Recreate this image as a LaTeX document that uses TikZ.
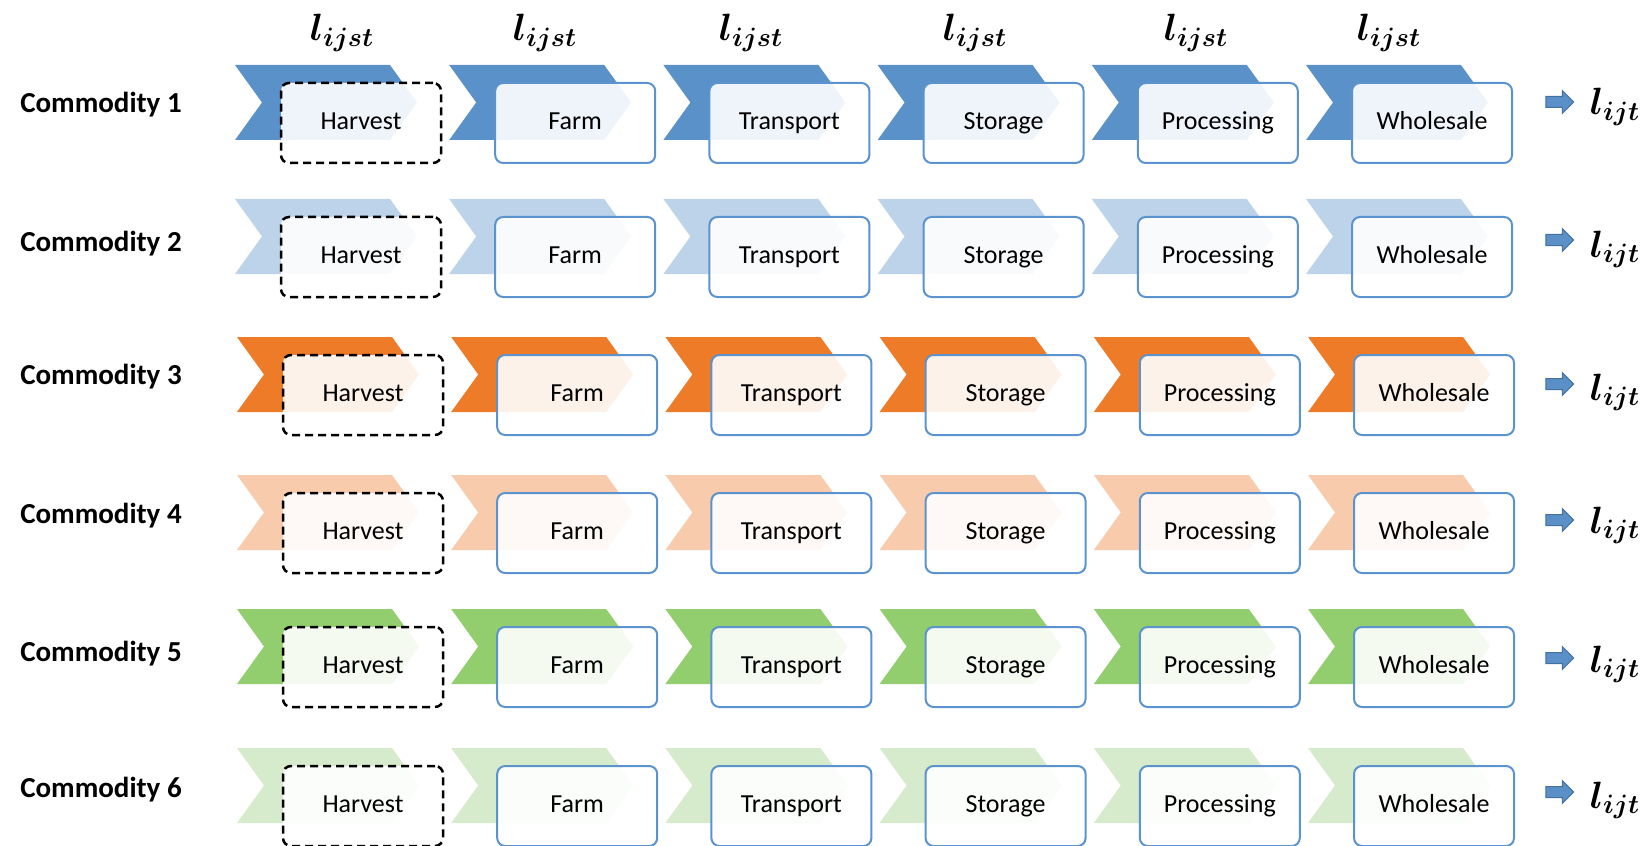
\RequirePackage{fix-cm}
\documentclass[tikz,border=0pt]{standalone}
\usepackage{amsmath}
\usepackage{fontspec}
\setmainfont{Carlito}
\usetikzlibrary{shapes.arrows}
\definecolor{rowA}{HTML}{5A91C8}
\definecolor{rowB}{HTML}{BCD3EA}
\definecolor{rowC}{HTML}{EE7B27}
\definecolor{rowD}{HTML}{F8CBAD}
\definecolor{rowE}{HTML}{92CD6E}
\definecolor{rowF}{HTML}{D6EBCC}
\definecolor{boxblue}{HTML}{5A93CE}
\definecolor{arrowblue}{HTML}{5B8FC8}
\definecolor{arrowedge}{HTML}{41719C}
\begin{document}
\begin{tikzpicture}[x=0.5pt,y=-0.5pt,
  stagebox/.style={draw=boxblue, line width=1pt, rounded corners=4pt, fill=white,
    fill opacity=0.9, text opacity=1, minimum width=80pt, minimum height=40pt,
    inner sep=0pt, font=\fontsize{13}{15}\selectfont, text height=9pt, text depth=2.5pt},
  harvestbox/.style={stagebox, draw=black, line width=1.25pt, dash pattern=on 4pt off 2.5pt},
  commlabel/.style={font=\bfseries\fontsize{14.5}{17}\selectfont, text height=10pt,
    text depth=3pt, inner sep=0pt},
  flowarrow/.style={single arrow, draw=arrowedge, fill=arrowblue, line width=0.5pt,
    minimum height=14pt, single arrow head extend=3pt, inner sep=2.5pt},
  mathlabel/.style={font=\fontsize{19}{22}\selectfont\boldmath, inner sep=0pt, anchor=base}
]
\useasboundingbox (0,0) rectangle (1647,845);
\fill[white] (0,0) rectangle (1647,845);
% top labels
\foreach \c/\x in {1/342,2/545,3/751,4/975,5/1196,6/1389}
  \node[mathlabel] (top\c) at (\x,41) {$l_{ijst}$};
% rows
\foreach \r/\ct/\lab/\arr/\lb/\dx/\col in {1/65/104/102/115/0/rowA,
    2/199/242/240/257/0/rowB, 3/337/375/384/400/2/rowC, 4/475/514/520/533/2/rowD,
    5/609/652/658/672/2/rowE, 6/748/788/792/808/2/rowF}{
  \node[commlabel] (comm\r) at (101,{\lab+2}) {Commodity \r};
  \foreach \c/\name in {0/Harvest,1/Farm,2/Transport,3/Storage,4/Processing,5/Wholesale}{
    \pgfmathsetmacro\cx{235+214.2*\c+\dx}
    \fill[\col] (\cx,\ct) -- ++(155,0) -- ++(27,37.5) -- ++(-27,37.5) -- ++(-155,0)
      -- ++(27,-37.5) -- cycle;
    \ifnum\c=0
      \node[harvestbox] (box\r-\c) at ({\cx+126},{\ct+58}) {\name};
    \else
      \node[stagebox] (box\r-\c) at ({\cx+126},{\ct+58}) {\name};
    \fi
  }
  \node[flowarrow] (arr\r) at (1557,\arr) {};
  \node[mathlabel] (out\r) at (1615,\lb) {$l_{ijt}$};
}
\end{tikzpicture}
\end{document}
